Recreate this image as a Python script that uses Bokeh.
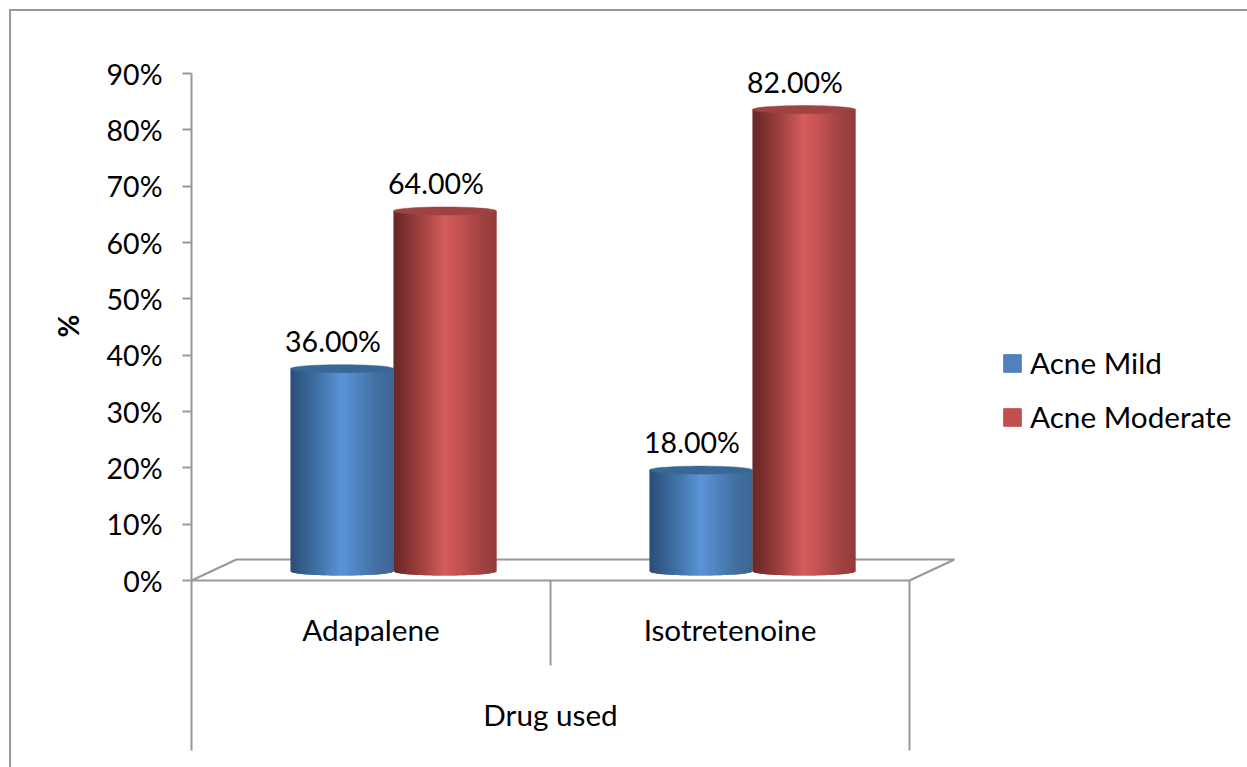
import numpy as np
from bokeh.core.properties import value
from bokeh.embed import file_html
from bokeh.models import (ColumnDataSource, FixedTicker, Legend, LegendItem,
                          PrintfTickFormatter, Range1d, Title)
from bokeh.plotting import figure
from bokeh.resources import INLINE

# Chart data
categories = ["Adapalene", "Isotretenoine"]
group_title = "Drug used"
value_axis_title = "%"
series_names = ["Acne Mild", "Acne Moderate"]
acne_mild = [36.0, 18.0]
acne_moderate = [64.0, 82.0]
y_ticks = [0, 10, 20, 30, 40, 50, 60, 70, 80, 90]

# Shared styling
FONT = "Lato"
AXIS_GREY = "#989898"
NUMBER_SIZE = "28.5px"
NAME_SIZE = "29.7px"
LEGEND_COLORS = ["#4f81bd", "#c0504d"]
CAP_COLORS = ["#3a6896", "#9f4243"]
STOPS = [0.0, 0.12, 0.3, 0.5, 0.62, 0.85, 1.0]
BODY_RAMPS = [
    ["#2a4d75", "#345e8c", "#4376ae", "#5b95d8", "#5187c4", "#426f9f", "#3d6795"],
    ["#672827", "#7f3130", "#a64544", "#d55d5c", "#c65453", "#a24343", "#943a3a"],
]

# Geometry in data units: x is in category widths, y in percent
PX_X = 1 / 359
PX_Y = 90 / 507
BAR_WIDTH = 103 * PX_X
DEPTH_X = 45 * PX_X
DEPTH_Y = 21 * PX_Y
BASE_Y = 9 * PX_Y
ELLIPSE_H = 4 * PX_Y
GROUP_SHIFT = 0.0625
AXIS_LOW = -170 * PX_Y


def hex_ramp(ramp, t):
    rgb = np.array([[int(c[i:i + 2], 16) for i in (1, 3, 5)] for c in ramp], dtype=float)
    mixed = [np.interp(t, STOPS, rgb[:, k]) for k in range(3)]
    return "#%02x%02x%02x" % tuple(int(round(m)) for m in mixed)


p = figure(width=1247, height=767, output_backend="svg", toolbar_location=None,
           x_range=Range1d(0, 1056 * PX_X), y_range=Range1d(-187 * PX_Y, 580 * PX_Y),
           min_border_left=191, min_border_right=0, min_border_top=0, min_border_bottom=0,
           outline_line_color=None, background_fill_alpha=0, border_fill_alpha=0)
p.grid.visible = False
p.xaxis.visible = False

# Chart-area frame: top and left rules painted behind the transparent canvas
rule = f"linear-gradient({AXIS_GREY},{AXIS_GREY})"
p.styles = {"background": f"{rule} 9px 9px / 100% 2px no-repeat, {rule} 9px 9px / 2px 100% no-repeat"}

# Value axis, extended below zero as the outer edge of the category band
axis = p.yaxis[0]
axis.ticker = FixedTicker(ticks=y_ticks)
axis.formatter = PrintfTickFormatter(format="%d%%")
axis.bounds = (AXIS_LOW, 90)
axis.axis_line_color = AXIS_GREY
axis.axis_line_width = 2
axis.major_tick_line_color = AXIS_GREY
axis.major_tick_line_width = 2
axis.major_tick_in = 0
axis.major_tick_out = 9
axis.minor_tick_line_color = None
axis.major_label_standoff = 20
axis.major_label_text_font = FONT
axis.major_label_text_font_size = NUMBER_SIZE
axis.major_label_text_color = "black"

# Rotated axis title, lifted to the middle of the value scale
p.add_layout(Title(text=value_axis_title, align="left", offset=430, standoff=38,
                   text_font=FONT, text_font_size="28px", text_font_style="bold",
                   text_color="black"), "left")

# Floor of the 3D plot box and the category dividers
n_cat = len(categories)
p.multi_line(
    xs=[[0, n_cat, n_cat + DEPTH_X, DEPTH_X, 0], [1, 1], [n_cat, n_cat]],
    ys=[[0, 0, DEPTH_Y, DEPTH_Y, 0], [0, -85 * PX_Y], [0, AXIS_LOW]],
    line_color=AXIS_GREY, line_width=2)

# Legend swatches sit behind the cylinders at zero width
legend_items = []
for s, name in enumerate(series_names):
    swatch = p.quad(left=[0.5], right=[0.5], top=[BASE_Y], bottom=[BASE_Y],
                    fill_color=LEGEND_COLORS[s], line_color=LEGEND_COLORS[s])
    legend_items.append(LegendItem(label=name, renderers=[swatch]))

# Cylinders: overlapping shaded strips painted left to right, closed by a flat elliptical cap
all_series = [acne_mild, acne_moderate]
N_STRIPS = 70
for s, vals in enumerate(all_series):
    offset = (s - 0.5) * BAR_WIDTH
    for c, v in enumerate(vals):
        cx = c + 0.5 + GROUP_SHIFT + offset
        edges = np.linspace(-1, 1, N_STRIPS + 1)
        top = BASE_Y + v
        xs, ys, colors = [], [], []
        for i in range(N_STRIPS):
            a, b = edges[i], edges[min(i + 2, N_STRIPS)]
            xs.append(list(cx + np.array([a, b, b, a]) * BAR_WIDTH / 2))
            sag_a = ELLIPSE_H * np.sqrt(max(0, 1 - a * a))
            sag_b = ELLIPSE_H * np.sqrt(max(0, 1 - b * b))
            ys.append([top, top, BASE_Y - sag_b, BASE_Y - sag_a])
            colors.append(hex_ramp(BODY_RAMPS[s], (edges[i] + edges[i + 1] + 2) / 4))
        p.patches(xs, ys, fill_color=colors, line_color=None)
        theta = np.linspace(0, 2 * np.pi, 80)
        p.patch(cx + np.cos(theta) * BAR_WIDTH / 2, top + np.sin(theta) * ELLIPSE_H,
                fill_color=CAP_COLORS[s], line_color=CAP_COLORS[s], line_width=0.5)

# Value labels above each cylinder
label_src = ColumnDataSource(dict(
    x=[c + 0.5 + GROUP_SHIFT + (s - 0.5) * BAR_WIDTH for s in range(2) for c in range(n_cat)],
    y=[BASE_Y + v for vals in all_series for v in vals],
    t=["%.2f%%" % v for vals in all_series for v in vals]))
p.text("x", "y", text="t", source=label_src, x_offset=-9, y_offset=-28,
       text_align="center", text_baseline="middle", text_font=value(FONT),
       text_font_size=NUMBER_SIZE, text_color="black")

# Category names and the group title below the floor
p.text(x=[c + 0.5 for c in range(n_cat)], y=[-49 * PX_Y] * n_cat, text=categories,
       text_align="center", text_baseline="middle", text_font=value(FONT),
       text_font_size=NAME_SIZE, text_color="black")
p.text(x=[n_cat / 2], y=[-134 * PX_Y], text=[group_title],
       text_align="center", text_baseline="middle", text_font=value(FONT),
       text_font_size=NAME_SIZE, text_color="black")

legend = Legend(items=legend_items, location=(810, 333), orientation="vertical",
                background_fill_alpha=0, border_line_color=None,
                glyph_width=22, glyph_height=22, label_standoff=7, spacing=19,
                padding=0, margin=0, label_text_font=FONT, label_text_font_size=NAME_SIZE,
                label_text_color="black", label_height=18)
p.add_layout(legend)

open("out.html", "w").write(file_html(p, INLINE))
